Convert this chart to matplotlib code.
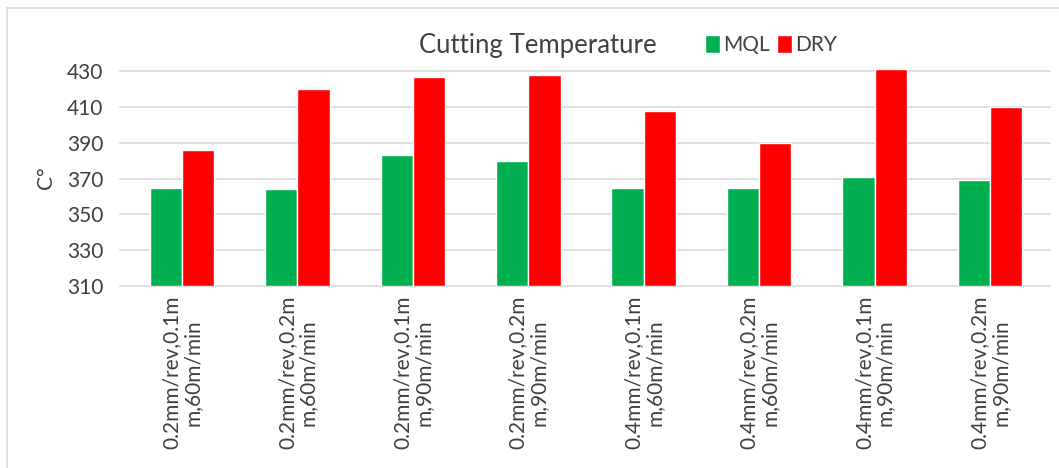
import matplotlib.pyplot as plt
import numpy as np
from matplotlib.lines import Line2D

# cutting conditions: feed, depth of cut, cutting speed
conditions = [
    "0.2mm/rev,0.1m\nm,60m/min",
    "0.2mm/rev,0.2m\nm,60m/min",
    "0.2mm/rev,0.1m\nm,90m/min",
    "0.2mm/rev,0.2m\nm,90m/min",
    "0.4mm/rev,0.1m\nm,60m/min",
    "0.4mm/rev,0.2m\nm,60m/min",
    "0.4mm/rev,0.1m\nm,90m/min",
    "0.4mm/rev,0.2m\nm,90m/min",
]
mql_temp = [365, 364, 383, 380, 365, 365, 371, 369]
dry_temp = [386, 420, 427, 428, 408, 390, 431, 410]
y_ticks = [310, 330, 350, 370, 390, 410, 430]

plt.rcParams['font.family'] = ['Lato', 'DejaVu Sans']
txt_color = "#404040"

fig = plt.figure(figsize=(10.59, 4.68), dpi=100)
ax = fig.add_axes([124.3 / 1059, 1 - 286 / 468, (1047.7 - 124.3) / 1059, (286 - 69.5) / 468])

x = np.arange(len(conditions))
w = 0.28
ax.bar(x - w / 2, np.array(mql_temp) - 310, w, bottom=310, color="#00b050",
       edgecolor="white", linewidth=1, label="MQL", zorder=3)
ax.bar(x + w / 2, np.array(dry_temp) - 310, w, bottom=310, color="#ff0000",
       edgecolor="white", linewidth=1, label="DRY", zorder=3)

ax.set_xlim(-0.5, len(conditions) - 0.5)
ax.set_ylim(310, 431)
ax.set_yticks(y_ticks)
ax.set_yticklabels([str(t) for t in y_ticks], fontsize=15, color=txt_color)
ax.set_xticks(x)
ax.set_xticklabels(conditions, rotation=90, fontsize=15, color=txt_color,
                   ha="center", va="top", multialignment="center",
                   linespacing=1.05)
ax.tick_params(axis="y", length=0, pad=15)
ax.tick_params(axis="x", length=0, pad=7)

# light horizontal gridlines, slightly wider than the bar area
for t in y_ticks:
    ax.plot([-0.54, 7.52], [t, t], color="#d9d9d9", linewidth=1.2, zorder=1, clip_on=False)
for s in ax.spines.values():
    s.set_visible(False)

ax.set_ylabel("C°", fontsize=15, color=txt_color)
ax.yaxis.set_label_coords(-0.074, 0.5)

fig.text(538 / 1059, 1 - 45 / 468, "Cutting Temperature", fontsize=18.5,
         color=txt_color, ha="center", va="center")
fig.legend(loc="center", bbox_to_anchor=(771 / 1059, 1 - 45 / 468), ncol=2,
           frameon=False, fontsize=15, handlelength=0.75, handleheight=1.0,
           handletextpad=0.15, columnspacing=0.3, labelcolor=txt_color)

# chart frame: top and left edges
fig.add_artist(Line2D([7 / 1059, 1], [1 - 8 / 468, 1 - 8 / 468], transform=fig.transFigure,
                      color="#d9d9d9", linewidth=1.2))
fig.add_artist(Line2D([7 / 1059, 7 / 1059], [0, 1 - 8 / 468], transform=fig.transFigure,
                      color="#d9d9d9", linewidth=1.2))

fig.savefig("out.png", dpi=100)
